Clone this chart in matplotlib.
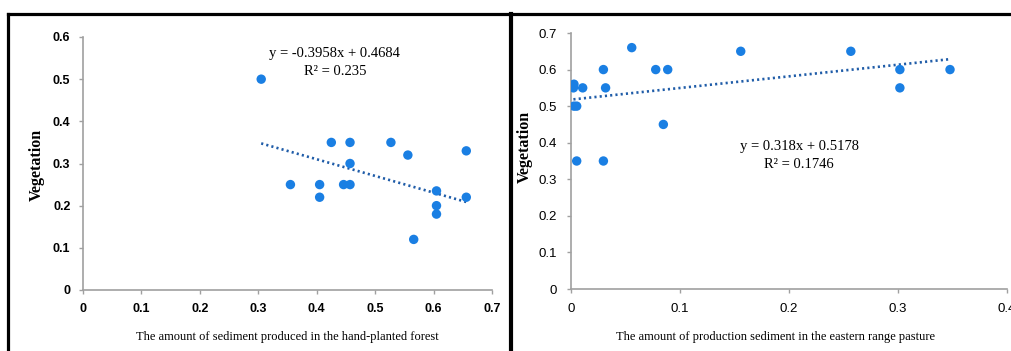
#!/usr/bin/env python3

import matplotlib
matplotlib.use('Agg')
import matplotlib.pyplot as plt
from matplotlib.lines import Line2D
import numpy as np

# Hand-planted forest: sediment vs vegetation
forest_sediment = [0.305, 0.355, 0.405, 0.405, 0.425, 0.446, 0.457, 0.457, 0.457,
                   0.527, 0.556, 0.566, 0.605, 0.605, 0.605, 0.656, 0.656]
forest_veg = [0.50, 0.25, 0.25, 0.22, 0.35, 0.25, 0.25, 0.35, 0.30,
              0.35, 0.32, 0.12, 0.235, 0.20, 0.18, 0.33, 0.22]
forest_fit = (-0.3958, 0.4684)
forest_r2 = '0.235'

# Eastern range pasture: sediment vs vegetation
pasture_sediment = [0.003, 0.0025, 0.011, 0.003, 0.0055, 0.0055, 0.030, 0.032, 0.030,
                    0.056, 0.078, 0.089, 0.085, 0.156, 0.257, 0.302, 0.302, 0.348]
pasture_veg = [0.56, 0.55, 0.55, 0.50, 0.50, 0.35, 0.60, 0.55, 0.35,
               0.66, 0.60, 0.60, 0.45, 0.65, 0.65, 0.60, 0.55, 0.60]
pasture_fit = (0.318, 0.5178)
pasture_r2 = '0.1746'

W, H = 1012, 351
fig = plt.figure(figsize=(W / 100, H / 100), dpi=100)
fig.patch.set_facecolor('white')

point_color = '#1a7fe3'
line_color = '#1f5ca8'
spine_color = '#a0a0a0'
serif = 'Liberation Serif'
sans = 'Liberation Sans'


def px_axes(x0, x1, y_top, y_bot):
    return fig.add_axes([x0 / W, 1 - y_bot / H, (x1 - x0) / W, (y_bot - y_top) / H])


def style_axes(ax, bold, size, pad):
    for side in ['top', 'right']:
        ax.spines[side].set_visible(False)
    for side in ['left', 'bottom']:
        ax.spines[side].set_color(spine_color)
        ax.spines[side].set_linewidth(1.2)
    ax.tick_params(direction='out', length=3, width=1.0, color=spine_color,
                   labelsize=size, pad=pad)
    for lab in ax.get_xticklabels() + ax.get_yticklabels():
        lab.set_fontfamily(sans)
        lab.set_fontweight('bold' if bold else 'normal')


def draw_panel(ax, xs, ys, fit, xlim, ylim, xticks, yticks, tick_lbls_x, tick_lbls_y):
    ax.scatter(xs, ys, s=46, color=point_color, edgecolors='none', zorder=3)
    tx = np.array([min(xs), max(xs)])
    ax.plot(tx, fit[0] * tx + fit[1], color=line_color, lw=1.9,
            linestyle=(0, (0.8, 1.2)), zorder=2)
    ax.set_xlim(*xlim)
    ax.set_ylim(*ylim)
    ax.set_xticks(xticks)
    ax.set_yticks(yticks)
    ax.set_xticklabels(tick_lbls_x)
    ax.set_yticklabels(tick_lbls_y)


# Left panel
ax1 = px_axes(83, 492, 37, 290)
draw_panel(ax1, forest_sediment, forest_veg, forest_fit,
           (0, 0.7), (0, 0.6), np.arange(0, 0.71, 0.1), np.arange(0, 0.61, 0.1),
           ['0', '0.1', '0.2', '0.3', '0.4', '0.5', '0.6', '0.7'],
           ['0', '0.1', '0.2', '0.3', '0.4', '0.5', '0.6'])
style_axes(ax1, True, 9, 6)
ax1.text(0.431, 0.540, f'y = {forest_fit[0]}x + {forest_fit[1]}\nR\u00b2 = {forest_r2}',
         ha='center', va='center', fontfamily=serif, fontsize=10.5, linespacing=1.5)
ax1.set_xlabel('The amount of sediment produced in the hand-planted forest',
               fontfamily=serif, fontsize=9)
ax1.xaxis.set_label_coords(0.5, -0.163)
ax1.set_ylabel('Vegetation', fontfamily=serif, fontsize=11.5, fontweight='bold')
ax1.yaxis.set_label_coords(-0.093, 0.494)

# Right panel
ax2 = px_axes(570.7, 1006.7, 33, 289)
draw_panel(ax2, pasture_sediment, pasture_veg, pasture_fit,
           (0, 0.4), (0, 0.7), np.arange(0, 0.41, 0.1), np.arange(0, 0.71, 0.1),
           ['0', '0.1', '0.2', '0.3', '0.4'],
           ['0', '0.1', '0.2', '0.3', '0.4', '0.5', '0.6', '0.7'])
style_axes(ax2, False, 9.5, 7)
ax2.text(0.2095, 0.366, f'y = {pasture_fit[0]}x + {pasture_fit[1]}\nR\u00b2 = {pasture_r2}',
         ha='center', va='center', fontfamily=serif, fontsize=10.5, linespacing=1.5)
ax2.set_xlabel('The amount of production sediment in the eastern range pasture',
               fontfamily=serif, fontsize=9)
ax2.xaxis.set_label_coords(0.4686, -0.163)
ax2.set_ylabel('Vegetation', fontfamily=serif, fontsize=11.5, fontweight='bold')
ax2.yaxis.set_label_coords(-0.087, 0.555)

# Black panel borders
fig.add_artist(Line2D([8 / W, 1], [1 - 14 / H, 1 - 14 / H], transform=fig.transFigure,
                      color='black', lw=2.3))
fig.add_artist(Line2D([8 / W, 8 / W], [0, 1 - 14 / H], transform=fig.transFigure,
                      color='black', lw=2.3))
fig.add_artist(Line2D([511 / W, 511 / W], [0, 1 - 14 / H], transform=fig.transFigure,
                      color='black', lw=3.0))

fig.savefig('out.png', dpi=100)
